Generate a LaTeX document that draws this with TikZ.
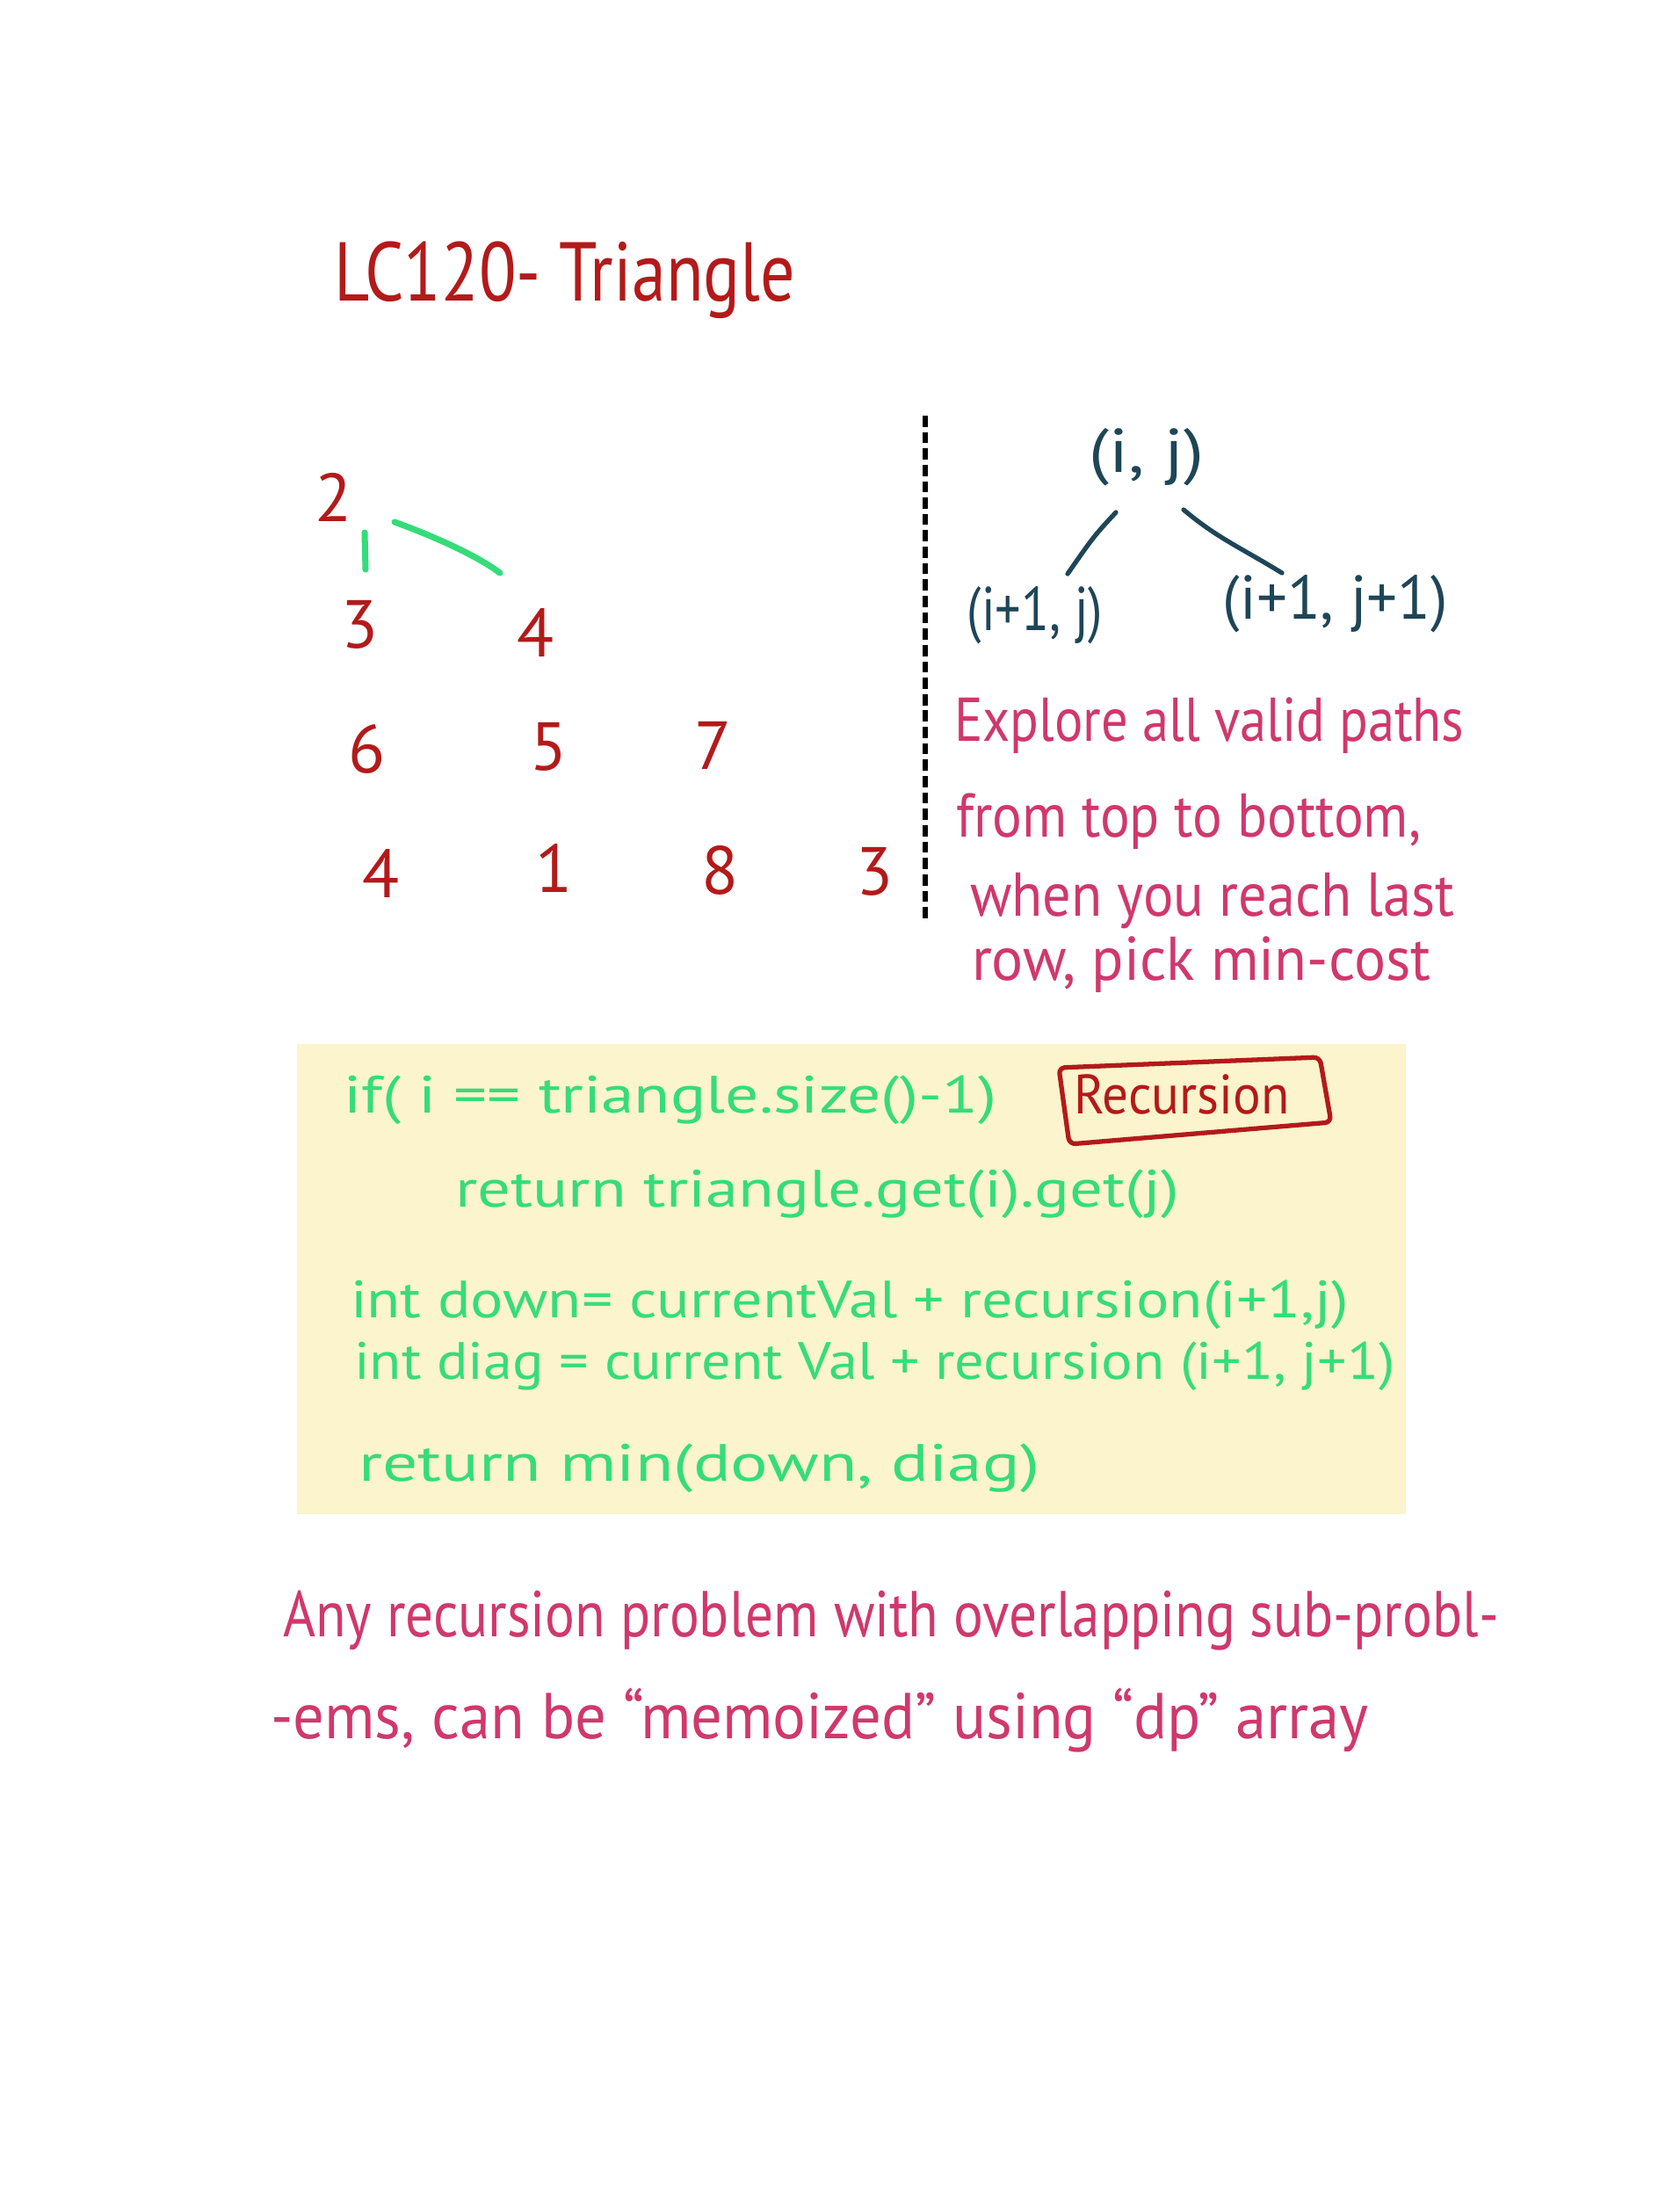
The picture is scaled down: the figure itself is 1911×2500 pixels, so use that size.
\documentclass[tikz,border=0pt]{standalone}
\usepackage{graphicx}
\usepackage{fontspec}
\setmainfont{PT Sans}
\definecolor{tred}{HTML}{B31A1A}
\definecolor{tgreen}{HTML}{35DC7A}
\definecolor{tteal}{HTML}{1E4658}
\definecolor{tpink}{HTML}{D0386C}
\definecolor{tyellow}{HTML}{FCF4CC}
\newcommand{\fw}[2]{\resizebox{#1cm}{\height}{#2}}
\begin{document}
\begin{tikzpicture}[x=0.01cm,y=-0.01cm,
  every node/.style={inner sep=0pt,outer sep=0pt},
  titletext/.style={text=tred,font=\fontsize{27}{30}\selectfont,anchor=base west},
  digit/.style={text=tred,font=\fontsize{22}{24}\selectfont,anchor=center},
  tealtext/.style={text=tteal,font=\fontsize{20}{24}\selectfont,anchor=center},
  notetext/.style={text=tpink,font=\fontsize{20}{24}\selectfont,anchor=base west},
  codetext/.style={text=tgreen,font=\fontsize{17}{20}\selectfont,anchor=base west},
  rectext/.style={text=tred,font=\fontsize{18}{20}\selectfont,anchor=center},
  bottomtext/.style={text=tpink,font=\fontsize{21}{24}\selectfont,anchor=base west},
  greenline/.style={draw=tgreen,line width=2pt,line cap=round},
  tealline/.style={draw=tteal,line width=1.5pt,line cap=round},
  divider/.style={draw=black,line width=1.5pt,dash pattern=on 3.6pt off 1.7pt}
]
\fill[white] (0,0) rectangle (1911,2500);
\useasboundingbox (0,0) rectangle (1911,2500);

% title
\node[titletext] (title) at (380,342) {\fw{5.25}{LC120- Triangle}};

% triangle numbers
\node[digit] (n00) at (380,566) {2};
\node[digit] (n10) at (410,711) {3};
\node[digit] (n11) at (610,720) {4};
\node[digit] (n20) at (418,852) {6};
\node[digit] (n21) at (625,850) {5};
\node[digit] (n22) at (812,848) {7};
\node[digit] (n30) at (434,994) {4};
\node[digit] (n31) at (631,988) {1};
\node[digit] (n32) at (820,990) {8};
\node[digit] (n33) at (996,992) {3};

% green connectors from 2
\coordinate (gd1) at (415,606);
\coordinate (gd2) at (416,648);
\coordinate (gr1) at (449,594);
\coordinate (gr2) at (569,652);
\draw[greenline] (gd1) -- (gd2);
\draw[greenline] (gr1) .. controls (485,607) and (540,630) .. (gr2);

% divider
\coordinate (dv1) at (1053,473);
\coordinate (dv2) at (1053,1049);
\draw[divider] (dv1) -- (dv2);

% recursion tree
\node[tealtext] (ij) at (1305,520) {\fw{1.30}{(i, j)}};
\node[tealtext] (ijl) at (1178,700) {\fw{1.54}{(i+1, j)}};
\node[tealtext] (ijr) at (1520,687) {\fw{2.56}{(i+1, j+1)}};
\coordinate (tl1) at (1270,583);
\coordinate (tl2) at (1215,653);
\coordinate (tr1) at (1347,580);
\coordinate (tr2) at (1459,652);
\draw[tealline] (tl1) .. controls (1245,610) .. (tl2);
\draw[tealline] (tr1) .. controls (1385,612) and (1410,622) .. (tr2);

% note
\node[notetext] (note1) at (1086,843) {\fw{5.80}{Explore all valid paths}};
\node[notetext] (note2) at (1088,952) {\fw{5.29}{from top to bottom,}};
\node[notetext] (note3) at (1104,1042) {\fw{5.51}{when you reach last}};
\node[notetext] (note4) at (1106,1115) {\fw{5.22}{row, pick min-cost}};

% code block
\fill[tyellow] (338,1188) rectangle (1600,1723);
\node[codetext] (c1) at (391,1266) {\fw{7.43}{if( i == triangle.size()-1)}};
\node[codetext] (c2) at (518,1373) {\fw{8.24}{return triangle.get(i).get(j)}};
\node[codetext] (c3) at (399,1499) {\fw{11.35}{int down= currentVal + recursion(i+1,j)}};
\node[codetext] (c4) at (403,1569) {\fw{11.84}{int diag = current Val + recursion (i+1, j+1)}};
\node[codetext] (c5) at (408,1685) {\fw{7.75}{return min(down, diag)}};

\node[rectext] (rec) at (1345,1245) {\fw{2.45}{Recursion}};
\draw[draw=tred,line width=1.5pt,line join=round,rounded corners=2pt]
  (1205,1215) -- (1502,1203) -- (1515,1277) -- (1217,1302) -- cycle;

% bottom note
\node[bottomtext] (b1) at (322,1862) {\fw{13.83}{Any recursion problem with overlapping sub-probl-}};
\node[bottomtext] (b2) at (308,1978) {\fw{12.49}{-ems, can be “memoized” using “dp” array}};
\end{tikzpicture}
\end{document}
